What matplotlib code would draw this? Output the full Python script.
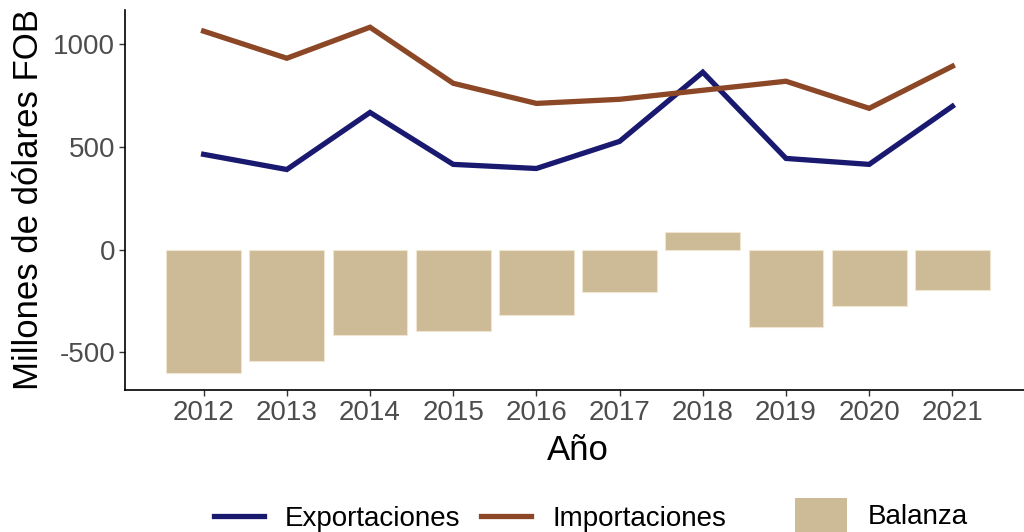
import matplotlib
matplotlib.use("Agg")
import matplotlib.pyplot as plt
from matplotlib.lines import Line2D
from matplotlib.patches import Patch
import numpy as np

years = [2012, 2013, 2014, 2015, 2016, 2017, 2018, 2019, 2020, 2021]
exportaciones = [464, 390, 668, 415, 395, 527, 864, 444, 415, 698]
importaciones = [1064, 932, 1083, 810, 712, 732, 776, 820, 688, 893]
balanza = [e - i for e, i in zip(exportaciones, importaciones)]

BLUE = "#191970"
BROWN = "#8B4726"
TAN = "#CDBA96"
GREY = "#4D4D4D"

plt.rcParams["font.family"] = ["Liberation Sans", "DejaVu Sans"]

fig = plt.figure(figsize=(10.24, 5.32), dpi=100)
ax = fig.add_axes([125 / 1024, 142 / 532, 906 / 1024, 380 / 532])

ax.bar(years, balanza, width=0.9, color=TAN, edgecolor="#EFE6D2", linewidth=0.8, zorder=1)
ax.plot(years, exportaciones, color=BLUE, lw=3.8, zorder=2, solid_joinstyle="miter")
ax.plot(years, importaciones, color=BROWN, lw=3.8, zorder=2, solid_joinstyle="miter")

ax.set_xlim(2011.055, 2021.945)
ax.set_ylim(-684, 1167)
ax.set_xticks(years, [str(y) for y in years])
ax.set_yticks([-500, 0, 500, 1000], ["-500", "0", "500", "1000"])
ax.tick_params(labelsize=20, labelcolor=GREY, color="#333333", length=4, width=1, pad=3)
for s in ["top", "right"]:
    ax.spines[s].set_visible(False)
for s in ["left", "bottom"]:
    ax.spines[s].set_linewidth(1.2)
ax.set_xlabel("Año", fontsize=25, labelpad=6)
ax.set_ylabel("Millones de dólares FOB", fontsize=25, labelpad=6)

h_lines = [Line2D([], [], color=BLUE, lw=3.8), Line2D([], [], color=BROWN, lw=3.8)]
leg1 = fig.legend(h_lines, ["Exportaciones", "Importaciones"], loc="center",
                  bbox_to_anchor=(470 / 1024, 1 - 519 / 532), ncol=2, frameon=False,
                  fontsize=20, handlelength=1.8, columnspacing=0.75, handletextpad=0.75,
                  borderpad=0, borderaxespad=0)
leg2 = fig.legend([Patch(facecolor=TAN, edgecolor="none")], ["Balanza"], loc="center",
                  bbox_to_anchor=(881 / 1024, 1 - 515 / 532), frameon=False,
                  fontsize=20, handlelength=1.9, handleheight=1.5, handletextpad=0.72,
                  borderpad=0, borderaxespad=0)

fig.savefig("out.png", dpi=100)
